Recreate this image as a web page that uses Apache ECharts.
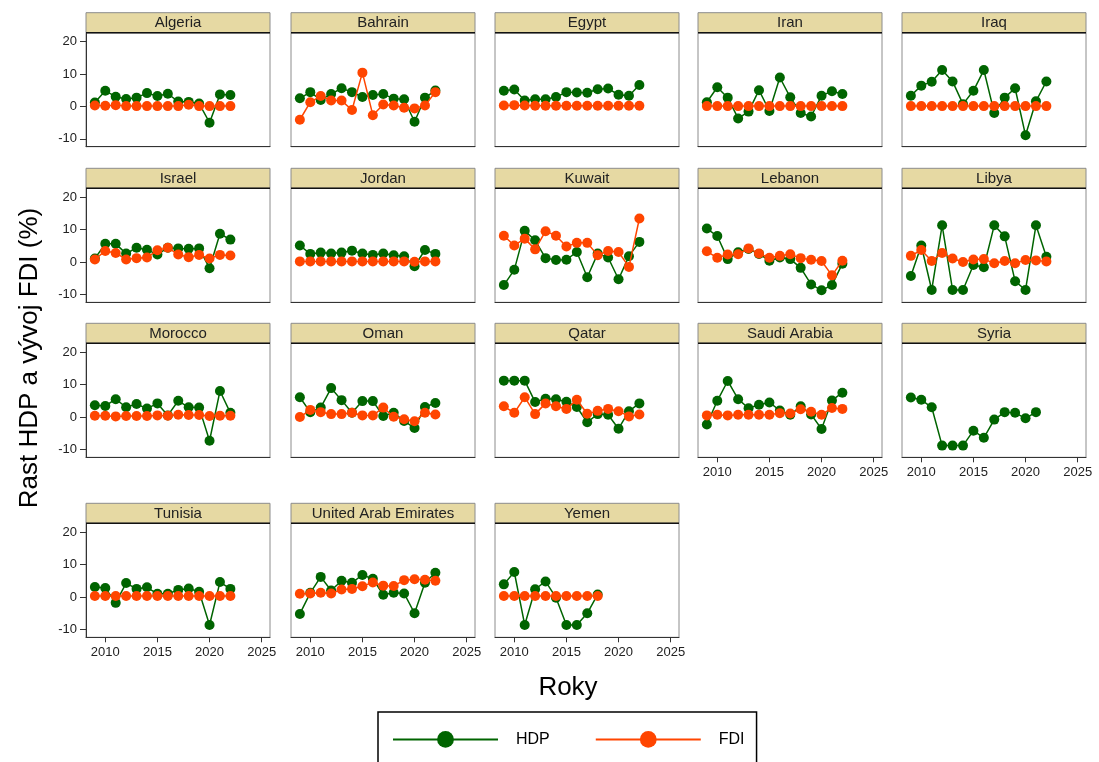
<!DOCTYPE html>
<html><head><meta charset="utf-8">
<script src="https://cdn.jsdelivr.net/npm/echarts@6/dist/echarts.min.js"></script>
<style>html,body{margin:0;padding:0;background:#fff}#c{width:1099px;height:762px}</style>
</head><body><div id="c"></div>
<script>
const countries = ['Algeria','Bahrain','Egypt','Iran','Iraq','Israel','Jordan','Kuwait','Lebanon','Libya','Morocco','Oman','Qatar','Saudi Arabia','Syria','Tunisia','United Arab Emirates','Yemen'];
const years = [2009,2010,2011,2012,2013,2014,2015,2016,2017,2018,2019,2020,2021,2022];
const xTicks = [2010,2015,2020,2025];
const yTicks = [-10,0,10,20];

// HDP (GDP growth, %)
const hdpAlgeria = [1.2,4.8,3.0,2.3,2.7,4.1,3.2,3.9,1.5,1.4,0.9,-5.0,3.7,3.5];
const hdpBahrain = [2.5,4.4,2.0,3.8,5.6,4.4,2.9,3.5,3.8,2.4,2.2,-4.7,2.7,4.9];
const hdpEgypt = [4.8,5.2,1.8,2.2,2.2,2.9,4.4,4.3,4.2,5.3,5.5,3.6,3.3,6.6];
const hdpIran = [1.3,5.9,2.7,-3.7,-1.6,5.0,-1.4,8.9,2.8,-2.0,-3.1,3.3,4.7,3.8];
const hdpIraq = [3.3,6.4,7.6,11.2,7.7,0.7,4.8,11.2,-2.0,2.7,5.6,-8.9,1.6,7.7];
const hdpIsrael = [1.1,5.6,5.6,2.6,4.4,3.8,2.3,4.4,4.2,4.1,4.2,-1.9,8.7,6.9];
const hdpJordan = [5.1,2.5,2.9,2.6,2.9,3.5,2.6,2.2,2.6,2.1,1.8,-1.3,3.7,2.5];
const hdpKuwait = [-7.1,-2.4,9.6,6.7,1.2,0.6,0.7,3.1,-4.7,2.6,1.4,-5.3,1.8,6.2];
const hdpLebanon = [10.3,8.0,0.9,3.0,4.0,2.5,0.4,1.4,0.9,-1.8,-6.9,-8.7,-7.1,-0.5];
const hdpLibya = [-4.3,5.1,-8.6,11.3,-8.6,-8.6,-0.9,-1.6,11.3,7.9,-5.9,-8.6,11.3,1.6];
const hdpMorocco = [3.6,3.4,5.5,3.0,4.0,2.6,4.2,0.5,5.0,3.0,2.9,-7.3,8.0,1.3];
const hdpOman = [6.1,1.5,2.9,8.9,5.2,1.3,4.9,4.9,0.3,1.3,-1.2,-3.4,3.1,4.3];
const hdpQatar = [11.2,11.2,11.2,4.6,5.6,5.5,4.7,3.1,-1.6,0.9,0.7,-3.6,1.8,4.2];
const hdpSaudi = [-2.3,5.0,11.1,5.5,2.7,3.8,4.5,2.0,0.7,3.3,0.8,-3.7,5.1,7.5];
const hdpSyria = [6.0,5.3,3.0,-8.8,-8.8,-8.8,-4.2,-6.4,-0.8,1.5,1.3,-0.4,1.5];
const hdpTunisia = [3.1,2.8,-1.8,4.3,2.5,3.0,1.0,1.0,2.2,2.6,1.6,-8.6,4.6,2.5];
const hdpUAE = [-5.2,1.3,6.2,2.0,5.0,4.4,6.8,5.6,0.7,1.3,1.1,-5.0,4.4,7.5];
const hdpYemen = [3.9,7.7,-8.6,2.4,4.8,-0.2,-8.6,-8.6,-5.0,0.8];

// FDI (%)
const fdiAlgeria = [0.3,0.2,0.4,0.1,0.1,0.1,0.1,0.1,0.1,0.5,0.1,0.1,0.1,0.1];
const fdiBahrain = [-4.1,1.3,3.2,1.8,1.8,-1.1,10.4,-2.7,0.6,0.3,-0.4,-0.6,0.3,4.4];
const fdiEgypt = [0.3,0.4,0.3,0.2,0.2,0.2,0.2,0.2,0.2,0.2,0.2,0.2,0.2,0.2];
const fdiIran = [0.1,0.1,0.1,0.1,0.1,0.1,0.1,0.1,0.1,0.1,0.1,0.1,0.1,0.1];
const fdiIraq = [0.1,0.1,0.1,0.1,0.1,0.1,0.1,0.1,0.1,0.1,0.1,0.1,0.1,0.1];
const fdiIsrael = [0.8,3.4,2.8,0.8,1.2,1.4,3.6,4.4,2.3,1.5,2.2,1.1,2.2,2.0];
const fdiJordan = [0.2,0.2,0.2,0.2,0.2,0.2,0.2,0.2,0.2,0.2,0.2,0.1,0.2,0.2];
const fdiKuwait = [8.1,5.1,7.2,3.9,9.5,8.1,4.8,5.9,5.9,2.1,3.4,3.1,-1.5,13.4];
const fdiLebanon = [3.3,1.3,2.3,2.4,4.2,2.6,1.3,1.9,2.4,1.2,0.7,0.3,-4.1,0.4];
const fdiLibya = [1.9,3.7,0.3,2.8,1.1,0.0,0.8,0.9,-0.4,0.3,-0.4,0.6,0.5,0.2];
const fdiMorocco = [0.4,0.4,0.2,0.3,0.3,0.3,0.5,0.4,0.7,0.6,0.6,0.3,0.4,0.4];
const fdiOman = [0.0,2.2,1.5,0.9,0.9,1.3,0.5,0.5,2.9,0.1,-0.7,-1.3,1.3,0.8];
const fdiQatar = [3.3,1.3,6.1,0.9,4.2,3.3,2.5,5.3,1.0,1.9,2.5,1.8,0.2,0.8];
const fdiSaudi = [0.5,0.7,0.5,0.7,0.7,0.7,0.7,1.2,1.1,2.4,1.6,0.7,2.8,2.5];
const fdiSyria = [];
const fdiTunisia = [0.3,0.3,0.3,0.3,0.3,0.3,0.3,0.3,0.3,0.3,0.3,0.3,0.3,0.3];
const fdiUAE = [1.0,1.1,1.3,1.1,2.3,2.5,3.3,4.5,3.5,3.4,5.2,5.5,5.3,5.0];
const fdiYemen = [0.3,0.3,0.3,0.3,0.3,0.3,0.3,0.3,0.3,0.3];

const hdpAll = [hdpAlgeria,hdpBahrain,hdpEgypt,hdpIran,hdpIraq,hdpIsrael,hdpJordan,hdpKuwait,hdpLebanon,hdpLibya,hdpMorocco,hdpOman,hdpQatar,hdpSaudi,hdpSyria,hdpTunisia,hdpUAE,hdpYemen];
const fdiAll = [fdiAlgeria,fdiBahrain,fdiEgypt,fdiIran,fdiIraq,fdiIsrael,fdiJordan,fdiKuwait,fdiLebanon,fdiLibya,fdiMorocco,fdiOman,fdiQatar,fdiSaudi,fdiSyria,fdiTunisia,fdiUAE,fdiYemen];

const GREEN = '#006400', ORANGE = '#FF4500';
const colLeft = [86, 291, 495, 698, 902];
const rowTop = [12.7, 168.3, 323.3, 503.3];
const panelW = 184, headH = 20, plotH = 114;
const bottomPanels = [13,14,15,16,17];
const FONT = 'Liberation Sans, Arial, sans-serif';

const grids = [], xAxes = [], yAxes = [], series = [], graphics = [];
countries.forEach((name, i) => {
  const r = Math.floor(i / 5), c = i % 5;
  const left = colLeft[c], top = rowTop[r] + headH;
  grids.push({left: left, top: top, width: panelW, height: plotH, show: true, borderColor: '#8c8c8c', borderWidth: 1, backgroundColor: '#fff', containLabel: false});
  const showX = bottomPanels.includes(i), showY = c === 0;
  xAxes.push({type: 'value', gridIndex: i, min: 2008.15, max: 2025.8,
    axisLine: {show: true, onZero: false, lineStyle: {color: '#333', width: 1}},
    axisTick: {show: showX, length: 5, customValues: xTicks, lineStyle: {color: '#333'}},
    axisLabel: {show: showX, customValues: xTicks, fontSize: 13, color: '#222', margin: 9, fontFamily: FONT,
      formatter: v => String(v)},
    splitLine: {show: false}});
  yAxes.push({type: 'value', gridIndex: i, min: -12.4, max: 22.7,
    axisLine: {show: showY, lineStyle: {color: '#333', width: 1}},
    axisTick: {show: showY, length: 6, customValues: yTicks, lineStyle: {color: '#333'}},
    axisLabel: {show: showY, customValues: yTicks, fontSize: 13, color: '#222', margin: 9, fontFamily: FONT,
      formatter: v => String(v)},
    splitLine: {show: false}});
  const hdp = hdpAll[i];
  series.push({name: 'HDP', type: 'line', xAxisIndex: i, yAxisIndex: i,
    data: hdp.map((v, k) => [years[k], v]), symbol: 'circle', symbolSize: 10,
    lineStyle: {color: GREEN, width: 1.5}, itemStyle: {color: GREEN}, z: 2});
  const fdi = fdiAll[i];
  if (fdi.length) {
    series.push({name: 'FDI', type: 'line', xAxisIndex: i, yAxisIndex: i,
      data: fdi.map((v, k) => [years[k], v]), symbol: 'circle', symbolSize: 10,
      lineStyle: {color: ORANGE, width: 1.5}, itemStyle: {color: ORANGE}, z: 3});
  }
  graphics.push({type: 'rect', shape: {x: left, y: rowTop[r], width: panelW, height: headH},
    style: {fill: '#E6D9A3', stroke: '#8c8c8c', lineWidth: 1}, z: 10});
  graphics.push({type: 'line', shape: {x1: left, y1: top, x2: left + panelW, y2: top},
    style: {stroke: '#111', lineWidth: 1.5}, z: 11});
  graphics.push({type: 'text', x: left + panelW / 2, y: rowTop[r] + headH / 2 + 0.5,
    style: {text: name, fill: '#222', font: '15px ' + FONT, textAlign: 'center', textVerticalAlign: 'middle'}, z: 12});
});

graphics.push({type: 'text', x: 30, y: 358, rotation: Math.PI / 2,
  style: {text: 'Rast HDP a vývoj FDI (%)', fill: '#000', font: '26px ' + FONT, textAlign: 'center', textVerticalAlign: 'middle'}, z: 12});
graphics.push({type: 'text', x: 568, y: 688,
  style: {text: 'Roky', fill: '#000', font: '26px ' + FONT, textAlign: 'center', textVerticalAlign: 'middle'}, z: 12});

const chart = echarts.init(document.getElementById('c'), null, {renderer: 'canvas'});
chart.setOption({
  animation: false,
  backgroundColor: '#fff',
  grid: grids, xAxis: xAxes, yAxis: yAxes, series: series,
  legend: {data: ['HDP', 'FDI'], left: 378, top: 712, orient: 'horizontal',
    padding: [19, 12, 40, 14], borderColor: '#000', borderWidth: 1.5,
    itemWidth: 105, itemHeight: 21, itemGap: 45,
    lineStyle: {width: 2},
    textStyle: {fontSize: 16, color: '#000', fontFamily: FONT, padding: [0, 0, 0, 13]}},
  graphic: graphics
});
</script></body></html>
